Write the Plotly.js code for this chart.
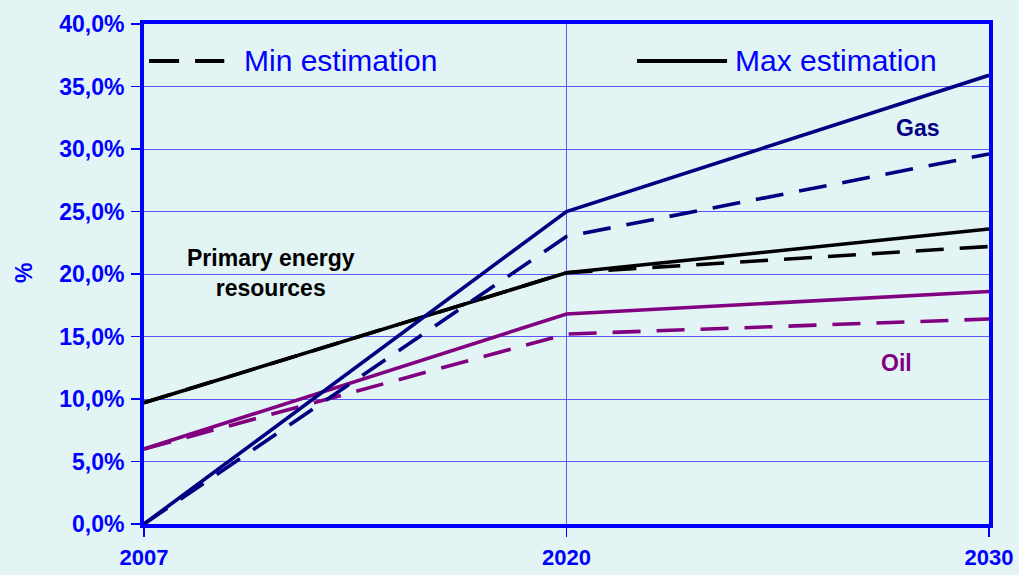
<!DOCTYPE html>
<html>
<head>
<meta charset="utf-8">
<script src="https://cdn.plot.ly/plotly-3.0.1.min.js"></script>
<style>
html,body{margin:0;padding:0;background:#e3f4f4;}
#chart{width:1019px;height:575px;}
</style>
</head>
<body>
<div id="chart"></div>
<script>
// Data
const years = ['2007', '2020', '2030'];
const gasMax = [0.0, 25.0, 35.9];
const gasMin = [0.0, 23.0, 29.6];
const primaryMax = [9.7, 20.1, 23.6];
const primaryMin = [9.7, 20.1, 22.2];
const oilMax = [6.0, 16.8, 18.6];
const oilMin = [6.0, 15.2, 16.4];
const yTicks = [0, 5, 10, 15, 20, 25, 30, 35, 40];
const yTickText = yTicks.map(v => v.toFixed(1).replace('.', ',') + '%');

const GAS = '#000080', OIL = '#800080', PRI = '#000000', BLUE = '#0000ff';
const DASH = '28px,16px';

function tr(y, color, dash) {
  return {x: years, y: y, type: 'scatter', mode: 'lines', showlegend: false,
          hoverinfo: 'skip', line: {color: color, width: 3.6, dash: dash}};
}

const data = [
  tr(primaryMin, PRI, DASH),
  tr(primaryMax, PRI, 'solid'),
  tr(oilMin, OIL, DASH),
  tr(oilMax, OIL, 'solid'),
  tr(gasMin, GAS, DASH),
  tr(gasMax, GAS, 'solid')
];

const FAM = 'Liberation Sans, Arial, sans-serif';
const tickFont = {family: FAM, size: 23, color: BLUE, weight: 'bold'};
const xTickFont = {family: FAM, size: 22, color: BLUE, weight: 'bold'};
const lblFont = {family: FAM, size: 23, weight: 'bold'};

const layout = {
  width: 1019, height: 575,
  margin: {l: 144, r: 30, t: 24, b: 51},
  paper_bgcolor: '#e3f4f4',
  plot_bgcolor: '#e2f4f4',
  showlegend: false,
  xaxis: {
    type: 'category', range: [0, 2],
    showline: true, linecolor: BLUE, linewidth: 4, mirror: true,
    showgrid: true, gridcolor: '#5a5aff', gridwidth: 1,
    ticks: 'outside', ticklen: 9, tickwidth: 1.5, tickcolor: BLUE,
    tickfont: xTickFont, ticklabelstandoff: 2,
    zeroline: false, fixedrange: true
  },
  yaxis: {
    range: [0, 40], tickvals: yTicks, ticktext: yTickText,
    showline: true, linecolor: BLUE, linewidth: 4, mirror: true,
    showgrid: true, gridcolor: '#5a5aff', gridwidth: 1,
    ticks: 'outside', ticklen: 9, tickwidth: 1.5, tickcolor: BLUE,
    tickfont: tickFont, ticklabelstandoff: 2,
    zeroline: false, fixedrange: true
  },
  shapes: [
    {type: 'line', xref: 'paper', yref: 'paper', x0: 0.006, x1: 0.095, y0: 0.926, y1: 0.926,
     line: {color: '#000', width: 4, dash: '30px,16px'}},
    {type: 'line', xref: 'paper', yref: 'paper', x0: 0.5834, x1: 0.69, y0: 0.926, y1: 0.926,
     line: {color: '#000', width: 4}}
  ],
  annotations: [
    {xref: 'paper', yref: 'paper', x: 0.116, y: 0.926, xanchor: 'left', yanchor: 'middle',
     text: 'Min estimation', showarrow: false,
     font: {family: FAM, size: 30, color: BLUE}},
    {xref: 'paper', yref: 'paper', x: 0.697, y: 0.926, xanchor: 'left', yanchor: 'middle',
     text: 'Max estimation', showarrow: false,
     font: {family: FAM, size: 30, color: BLUE}},
    {xref: 'paper', yref: 'paper', x: 0.150, y: 0.502, xanchor: 'center', yanchor: 'middle',
     text: 'Primary energy<br>resources', showarrow: false, align: 'center',
     font: Object.assign({}, lblFont, {color: '#000'})},
    {xref: 'paper', yref: 'paper', x: 0.915, y: 0.792, xanchor: 'center', yanchor: 'middle',
     text: 'Gas', showarrow: false, font: Object.assign({}, lblFont, {color: GAS})},
    {xref: 'paper', yref: 'paper', x: 0.890, y: 0.322, xanchor: 'center', yanchor: 'middle',
     text: 'Oil', showarrow: false, font: Object.assign({}, lblFont, {color: OIL})},
    {xref: 'paper', yref: 'paper', x: -0.142, y: 0.502, xanchor: 'center', yanchor: 'middle',
     text: '%', textangle: -90, showarrow: false, font: Object.assign({}, lblFont, {color: BLUE})}
  ]
};

Plotly.newPlot('chart', data, layout, {displayModeBar: false, staticPlot: true});
</script>
</body>
</html>
